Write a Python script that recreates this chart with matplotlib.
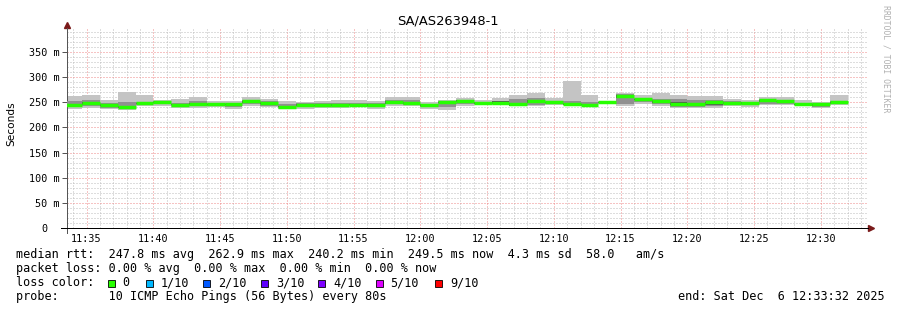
import matplotlib
matplotlib.use("Agg")
import matplotlib.pyplot as plt
import matplotlib.dates as mdates
from matplotlib.patches import Rectangle
import numpy as np
import pandas as pd

# smokeping style RTT graph, 80 s steps, values in ms (time stamp = end of step)
bin_end = pd.date_range("2025-12-06 11:34:40", periods=44, freq="80s")
median = [244.9, 248.0, 244.0, 240.2, 247.4, 249.4, 245.0, 246.8, 246.8, 246.0,
          251.4, 248.0, 241.0, 245.0, 244.0, 244.0, 245.0, 245.0, 249.4, 248.7,
          245.0, 250.8, 252.7, 248.7, 248.7, 246.8, 251.4, 250.0, 246.8, 245.0,
          250.0, 262.9, 256.7, 251.4, 246.0, 246.8, 249.4, 248.7, 248.7, 253.4,
          252.7, 246.8, 245.4, 249.5]
rtt_max = [261.3, 265.0, 254.7, 271.0, 265.0, 254.7, 256.7, 260.0, 253.0, 251.4,
           260.0, 256.0, 252.0, 250.0, 252.0, 255.0, 255.0, 251.4, 261.0, 260.0,
           249.4, 254.7, 258.5, 254.7, 258.5, 265.0, 269.0, 257.5, 291.7, 265.0,
           252.0, 269.0, 264.0, 269.0, 265.0, 263.0, 263.0, 256.7, 255.0, 260.0,
           260.0, 254.0, 250.8, 265.0]
rtt_min = [235.5, 238.0, 235.5, 235.0, 243.0, 242.4, 239.0, 238.4, 241.0, 237.0,
           242.4, 240.0, 237.0, 236.0, 238.0, 237.6, 242.0, 236.0, 243.0, 242.5,
           236.0, 235.0, 242.0, 243.5, 243.5, 242.0, 242.0, 245.0, 243.5, 242.0,
           246.0, 242.0, 247.0, 243.0, 238.0, 238.0, 238.0, 242.0, 241.0, 244.0,
           244.0, 244.0, 238.0, 244.0]
mid_hi = [252, 255, 249, 250, 251, 252, 249, 253, 249, 249,
          255, 252, 246, 248, 248, 248, 249, 248, 254, 255,
          247, 253, 255, 251, 252, 256, 258, 252, 252, 250,
          251, 266, 259, 257, 256, 255, 255, 252, 251, 256,
          255, 249, 248, 253]
mid_lo = [240, 242, 239, 238, 245, 246, 242, 242, 243, 241,
          246, 243, 239, 240, 241, 241, 243, 240, 246, 245,
          240, 241, 246, 246, 246, 244, 245, 247, 245, 243,
          248, 246, 250, 246, 241, 241, 242, 245, 244, 247,
          247, 245, 241, 246]
inner_hi = [247, 251, 246, 243, 249, 251, 247, 249, 247, 247,
            253, 250, 243, 246, 245, 246, 246, 246, 252, 251,
            246, 251, 254, 250, 252, 248, 254, 251, 248, 247,
            250, 265, 257, 254, 250, 249, 250, 250, 250, 254,
            253, 247, 246, 250]
inner_lo = [243, 245, 242, 239, 246, 248, 244, 244, 245, 244,
            249, 246, 240, 243, 242, 242, 244, 243, 247, 246,
            243, 249, 250, 247, 247, 243, 248, 249, 244, 244,
            249, 259, 254, 249, 244, 244, 244, 246, 246, 251,
            250, 245, 243, 247]

y_ticks = [0, 50, 100, 150, 200, 250, 300, 350]
y_labels = ["0  ", "50 m", "100 m", "150 m", "200 m", "250 m", "300 m", "350 m"]
loss_labels = ["0", "1/10", "2/10", "3/10", "4/10", "5/10", "9/10"]
loss_colors = ["#26ff00", "#00b8ff", "#0059ff", "#5e00ff", "#7e00ff", "#dd00ff", "#ff0000"]

t_start = pd.Timestamp("2025-12-06 11:33:32")
t_end = pd.Timestamp("2025-12-06 12:33:32")

W, H = 897, 310
fig = plt.figure(figsize=(W / 100, H / 100), dpi=100)
ax = fig.add_axes([67 / W, 1 - 228.3 / H, 801 / W, 200.8 / H])

step = pd.Timedelta(seconds=80)
w = -80 / 86400
lo, hi = np.array(rtt_min), np.array(rtt_max)
ax.bar(bin_end, hi - lo, bottom=lo, width=w, align="edge", color="#c4c4c4", lw=0, zorder=2)
ax.bar(bin_end, np.array(mid_hi) - np.array(mid_lo), bottom=mid_lo, width=w, align="edge",
       color="#909090", lw=0, zorder=3)
ax.bar(bin_end, np.array(inner_hi) - np.array(inner_lo), bottom=inner_lo, width=w, align="edge",
       color="#555555", lw=0, zorder=4)
ax.hlines(median, bin_end - step, bin_end, colors="#26ff00", lw=2.5, zorder=5)

ax.set_xlim(t_start, t_end)
ax.set_ylim(0, 398)
ax.xaxis.set_major_locator(mdates.MinuteLocator(byminute=range(0, 60, 5)))
ax.xaxis.set_minor_locator(mdates.MinuteLocator())
ax.xaxis.set_major_formatter(mdates.DateFormatter("%H:%M"))
ax.set_yticks(y_ticks)
ax.set_yticklabels(y_labels)
ax.set_yticks(np.arange(0, 400, 10), minor=True)

ax.set_axisbelow(True)
dot = (0, (1, 2))
ax.grid(which="minor", color="#bdbdbd", ls=dot, lw=0.72)
ax.grid(which="major", color="#ee8888", ls=dot, lw=0.72)

for s in ["top", "right"]:
    ax.spines[s].set_visible(False)
ax.spines["left"].set_color("#555555")
ax.spines["bottom"].set_color("black")
ax.spines["left"].set_linewidth(0.72)
ax.spines["bottom"].set_linewidth(0.72)
ax.plot([-0.007, 0], [0, 0], transform=ax.transAxes, color="black", lw=0.72, clip_on=False)
ax.plot([0, 0], [-0.025, 0], transform=ax.transAxes, color="#555555", lw=0.72, clip_on=False)
ax.plot([1.004], [0], marker=">", ms=4, color="#7a1a1a", transform=ax.transAxes, clip_on=False)
ax.plot([0], [1.01], marker="^", ms=4, color="#7a1a1a", transform=ax.transAxes, clip_on=False)

ax.tick_params(axis="y", which="major", length=3.6, width=0.72, color="#555555", pad=1.5,
               labelsize=7.3, labelfontfamily="DejaVu Sans Mono")
ax.tick_params(axis="y", which="minor", length=0)
ax.tick_params(axis="x", which="both", length=0, pad=4, labelsize=7.3,
               labelfontfamily="DejaVu Sans Mono")

fig.text(448 / W, 1 - 24 / H, "SA/AS263948-1", ha="center", va="baseline",
         fontsize=9.4, family="DejaVu Sans")
fig.text(11 / W, 1 - 124 / H, "Seconds", rotation=90, ha="center", va="center",
         fontsize=7.6, family="DejaVu Sans")
fig.text(886 / W, 1 - 5 / H, "RRDTOOL / TOBI OETIKER", rotation=270, ha="center", va="top",
         fontsize=5.9, family="DejaVu Sans Mono", color="#b0b0b0")

mono = dict(fontsize=8.5, family="DejaVu Sans Mono", va="baseline")
fig.text(16 / W, 1 - 258.2 / H,
         "median rtt:  247.8 ms avg  262.9 ms max  240.2 ms min  249.5 ms now  4.3 ms sd  58.0   am/s",
         **mono)
fig.text(16 / W, 1 - 272 / H,
         "packet loss: 0.00 % avg  0.00 % max  0.00 % min  0.00 % now", **mono)
fig.text(16 / W, 1 - 286 / H, "loss color:", **mono)
fig.text(16 / W, 1 - 300 / H, "probe:       10 ICMP Echo Pings (56 Bytes) every 80s", **mono)
fig.text(678 / W, 1 - 300 / H, "end: Sat Dec  6 12:33:32 2025", **mono)

sq_x = [108, 146, 203, 261, 318, 376, 435]
lab_x = [122.5, 160.5, 218, 276, 333, 390.5, 450]
for sx, lx, lab, col in zip(sq_x, lab_x, loss_labels, loss_colors):
    fig.patches.append(Rectangle((sx / W, 1 - 286.5 / H), 7 / W, 7 / H, transform=fig.transFigure,
                                 facecolor=col, edgecolor="black", lw=0.6))
    fig.text(lx / W, 1 - 286 / H, lab, **mono)

fig.savefig("out.png", dpi=100)
